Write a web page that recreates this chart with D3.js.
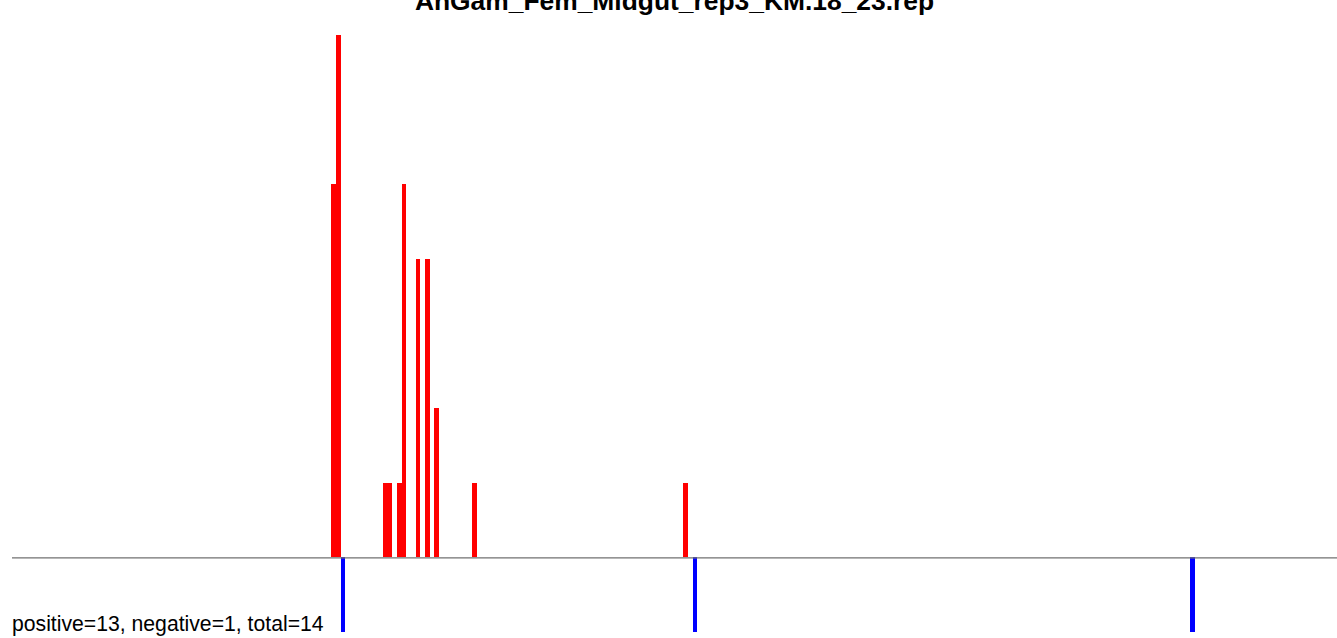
<!DOCTYPE html>
<html>
<head>
<meta charset="utf-8">
<script src="https://cdn.jsdelivr.net/npm/d3@7"></script>
<style>
  html, body { margin: 0; padding: 0; background: #ffffff; }
  svg { display: block; }
</style>
</head>
<body>
<script>
// ---- data ----
const titleText = "AnGam_Fem_Midgut_rep3_KM.18_23.rep";
const summaryText = "positive=13, negative=1, total=14";
const posPositions = [68, 69, 79, 80, 82, 83, 86, 88, 90, 98, 143];
const posCounts    = [5, 7, 1, 1, 1, 5, 4, 4, 2, 1, 1];
const negPositions = [70, 145, 251];
const negCounts    = [1, 1, 1];
const xDomain = [0, 282.3];
const yDomain = [-1, 7];

// ---- layout ----
const W = 1337, H = 638;
const svg = d3.select("body").append("svg").attr("width", W).attr("height", H);

const x = d3.scaleLinear().domain(xDomain).range([12, 1337]);
const y = d3.scaleLinear().domain(yDomain).range([632, 35]);

const posData = posPositions.map((p, i) => ({ p, v: posCounts[i] }));
const negData = negPositions.map((p, i) => ({ p, v: negCounts[i] }));

svg.append("g").selectAll("rect").data(posData).join("rect")
  .attr("x", d => x(d.p))
  .attr("width", d => x(d.p + 1) - x(d.p))
  .attr("y", d => y(d.v))
  .attr("height", d => y(0) - y(d.v))
  .attr("fill", "#ff0000")
  .attr("shape-rendering", "crispEdges");

svg.append("g").selectAll("rect").data(negData).join("rect")
  .attr("x", d => x(d.p))
  .attr("width", d => x(d.p + 1) - x(d.p))
  .attr("y", y(0))
  .attr("height", d => y(-d.v) - y(0))
  .attr("fill", "#0000ff")
  .attr("shape-rendering", "crispEdges");

svg.append("line")
  .attr("x1", x(xDomain[0])).attr("x2", x(xDomain[1]))
  .attr("y1", y(0) + 0.5).attr("y2", y(0) + 0.5)
  .attr("stroke", "#707070").attr("stroke-width", 1.2);

svg.append("text")
  .attr("x", (x(xDomain[0]) + x(xDomain[1])) / 2)
  .attr("y", 10)
  .attr("text-anchor", "middle")
  .attr("font-family", "'Liberation Sans', Arial, sans-serif")
  .attr("font-weight", "bold")
  .attr("font-size", 26.4)
  .attr("fill", "#000")
  .text(titleText);

svg.append("text")
  .attr("x", 12)
  .attr("y", 631)
  .attr("font-family", "'Liberation Sans', Arial, sans-serif")
  .attr("font-size", 21.2)
  .attr("fill", "#000")
  .text(summaryText);
</script>
</body>
</html>
